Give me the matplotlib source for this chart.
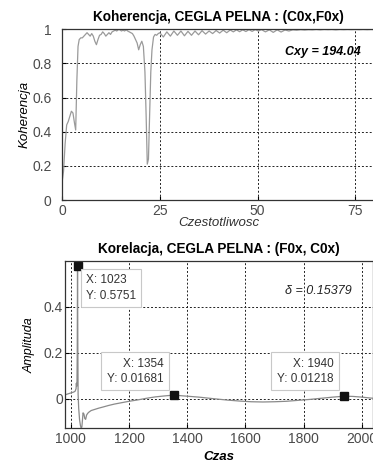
import matplotlib
matplotlib.use('Agg')
import matplotlib.pyplot as plt

plt.rcParams['font.family'] = ['Liberation Sans', 'DejaVu Sans']

# --- koherencja (top) ---
freq = [0, 0.4, 0.8, 1.2, 1.6, 2.0, 2.4, 2.8, 3.2, 3.5, 3.8, 4.1, 4.4, 4.8,
        5.2, 5.6, 6.0, 6.4, 6.8, 7.2, 7.6, 8.0, 8.4, 8.8, 9.2, 9.6, 10.0,
        10.4, 10.8, 11.2, 11.6, 12.0, 12.4, 12.8, 13.2, 13.6, 14.0, 14.4,
        14.8, 15.2, 15.6, 16.0, 16.4, 16.8, 17.2, 17.6, 18.0, 18.4, 18.8,
        19.2, 19.6, 20.0, 20.4, 20.8, 21.2, 21.5, 21.8, 22.1, 22.4, 22.7,
        23.0, 23.4, 23.8, 24.2, 24.6, 25.0, 25.9, 26.8, 27.7, 28.6, 29.5,
        30.4, 31.3, 32.2, 33.1, 34.0, 34.9, 35.8, 36.7, 37.6, 38.5, 39.4,
        40.3, 41.2, 42.1, 43.0, 43.8, 44.6, 45.4, 46.2, 47.0, 47.8, 48.6,
        49.4, 50.2, 51.0, 52.0, 53.0, 54.0, 55.0, 56.0, 57.0, 58.0, 59.0,
        60.0, 61.0, 62.0, 63.0, 64.0, 65.0, 66.0, 67.0, 68.0, 69.0, 70.0,
        71.0, 72.0, 73.0, 74.0, 75.0, 76.0, 77.0, 78.0, 79.0, 80.0]
koh = [0.10, 0.17, 0.33, 0.44, 0.46, 0.49, 0.52, 0.51, 0.45, 0.41, 0.70,
       0.90, 0.94, 0.95, 0.95, 0.96, 0.97, 0.98, 0.97, 0.96, 0.975, 0.96,
       0.93, 0.91, 0.94, 0.965, 0.97, 0.985, 0.975, 0.96, 0.97, 0.98, 0.97,
       0.985, 0.99, 0.995, 0.99, 0.998, 0.997, 0.99, 0.995, 0.99, 0.997,
       0.99, 0.985, 0.98, 0.975, 0.96, 0.94, 0.92, 0.88, 0.91, 0.93, 0.90,
       0.75, 0.50, 0.21, 0.24, 0.50, 0.75, 0.88, 0.955, 0.97, 0.965, 0.975,
       0.98, 0.955, 0.985, 0.96, 0.99, 0.965, 0.99, 0.962, 0.988, 0.965,
       0.99, 0.968, 0.992, 0.972, 0.99, 0.975, 0.993, 0.978, 0.995, 0.98,
       0.996, 0.985, 0.997, 0.986, 0.997, 0.987, 0.998, 0.988, 0.998, 0.99,
       0.998, 0.985, 0.997, 0.982, 0.997, 0.984, 0.996, 0.99, 0.997, 0.995,
       0.998, 0.996, 0.998, 0.997, 0.999, 0.997, 0.999, 0.998, 0.999, 0.997,
       0.999, 0.998, 0.999, 0.998, 0.999, 0.998, 0.999, 0.998, 0.999, 0.998]
cxy = 194.04

# --- korelacja (bottom) ---
czas = [980, 990, 1000, 1010, 1015, 1018, 1019, 1020, 1021, 1022, 1023, 1024,
        1025, 1027, 1030, 1033, 1036, 1038, 1040, 1042, 1045, 1048, 1051,
        1054, 1058, 1063, 1070, 1080, 1095, 1110, 1130, 1150, 1175, 1200,
        1230, 1260, 1290, 1320, 1354, 1380, 1410, 1440, 1470, 1500, 1540,
        1580, 1620, 1660, 1700, 1740, 1780, 1820, 1860, 1900, 1940, 1970,
        2000, 2030, 2060]
amp = [0.018, 0.022, 0.026, 0.030, 0.034, 0.045, 0.068, 0.055, 0.06, 0.2,
       0.5751, 0.25, 0.02, -0.04, -0.09, -0.115, -0.127, -0.12, -0.09, -0.06,
       -0.065, -0.085, -0.088, -0.07, -0.062, -0.056, -0.05, -0.046, -0.04,
       -0.035, -0.028, -0.022, -0.016, -0.01, -0.004, 0.003, 0.009, 0.013,
       0.01681, 0.014, 0.011, 0.008, 0.004, 0.0, -0.005, -0.009, -0.012,
       -0.013, -0.012, -0.010, -0.006, -0.002, 0.003, 0.008, 0.01218, 0.011,
       0.008, 0.004, 0.001]
tips_x = [1023, 1354, 1940]
tips_y = [0.5751, 0.01681, 0.01218]
delta = 0.15379

grid_kw = dict(color='#222222', linestyle=(0, (2, 2)), linewidth=0.7)

fig = plt.figure(figsize=(3.73, 4.63), dpi=100)

# top panel
ax1 = fig.add_axes([0.1662, 0.568, 0.8391, 0.3687])
ax1.plot(freq, koh, color='#9a9a9a', linewidth=0.9)
ax1.set_xlim(0, 80)
ax1.set_ylim(0, 1)
ax1.set_xticks([0, 25, 50, 75])
ax1.set_yticks([0, 0.2, 0.4, 0.6, 0.8, 1])
ax1.set_yticklabels(['0', '0.2', '0.4', '0.6', '0.8', '1'])
ax1.grid(True, **grid_kw)
ax1.tick_params(direction='in', length=3, labelsize=10, labelcolor='#4a4a4a')
ax1.tick_params(axis='y', pad=7.5)
ax1.tick_params(axis='x', pad=3)
ax1.set_title('Koherencja, CEGLA PELNA : (C0x,F0x)', fontsize=9.8,
              fontweight='bold', pad=6)
ax1.set_xlabel('Czestotliwosc', fontsize=9.5, style='italic', labelpad=-1,
               color='#333333')
ax1.set_ylabel('Koherencja', fontsize=9.5, style='italic', labelpad=1)
ax1.text(76.35, 0.867, 'Cxy = %.2f' % cxy, fontsize=9, style='italic',
         fontweight='bold', ha='right', va='center')

# bottom panel
ax2 = fig.add_axes([0.1743, 0.0749, 0.827, 0.3613])
ax2.plot(czas, amp, color='#8a8a8a', linewidth=0.9)
ax2.plot(tips_x, tips_y, 's', color='#111111', markersize=6)
ax2.set_xlim(980, 2040)
ax2.set_ylim(-0.127, 0.597)
ax2.set_xticks([1000, 1200, 1400, 1600, 1800, 2000])
ax2.set_yticks([0, 0.2, 0.4])
ax2.set_yticklabels(['0', '0.2', '0.4'])
ax2.grid(True, **grid_kw)
ax2.tick_params(direction='in', length=3, labelsize=10, labelcolor='#4a4a4a')
ax2.tick_params(axis='y', pad=1.5)
ax2.tick_params(axis='x', pad=3)
ax2.set_title('Korelacja, CEGLA PELNA : (F0x, C0x)', fontsize=9.8,
              fontweight='bold', pad=6)
ax2.set_xlabel('Czas', fontsize=9.5, style='italic', fontweight='bold',
               labelpad=3)
ax2.set_ylabel('Amplituda', fontsize=9, style='italic', labelpad=6)
ax2.text(1966, 0.468, '\u03b4 = %.5f' % delta, fontsize=9, style='italic',
         ha='right', va='center', color='#222222')

box = dict(boxstyle='square,pad=0.45', facecolor='white', edgecolor='#c8c8c8',
           linewidth=0.8)
offsets = [((6, -6), 'left', 'top'),
           ((-7.5, 7.5), 'right', 'bottom'),
           ((-8, 8.2), 'right', 'bottom')]
for (tx, ty), (off, ha, va) in zip(zip(tips_x, tips_y), offsets):
    ax2.annotate('X: %d\nY: %s' % (tx, ('%.4g' % ty)), xy=(tx, ty),
                 xytext=off, textcoords='offset points', ha=ha, va=va,
                 multialignment=ha, fontsize=8.5, color='#333333', bbox=box,
                 linespacing=1.35)

for ax in (ax1, ax2):
    for s in ax.spines.values():
        s.set_color('#333333')
        s.set_linewidth(0.9)

fig.savefig('out.png', dpi=100)
